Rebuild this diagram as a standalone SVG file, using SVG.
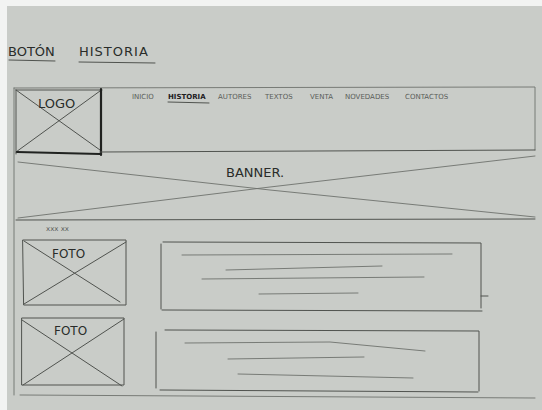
<svg xmlns="http://www.w3.org/2000/svg" width="542" height="410" viewBox="0 0 542 410">
<defs>
<style>
.ln{fill:none;stroke:#50534f;stroke-width:1;stroke-linecap:round}
.fn{fill:none;stroke:#6e726d;stroke-width:0.9;stroke-linecap:round}
.dk{fill:none;stroke:#202220;stroke-width:2.2;stroke-linecap:round}
.tx{font-family:"DejaVu Sans","Liberation Sans",sans-serif;fill:#2a2c2a}
.nv{font-family:"DejaVu Sans","Liberation Sans",sans-serif;fill:#5a5d59;font-size:7px}
</style>
</defs>
<rect width="542" height="410" fill="#f2f3f2"/>
<rect x="7" y="6" width="535" height="404" fill="#c9ccc8"/>
<g id="title">
<text class="tx" x="8" y="56" font-size="13">BOTÓN</text>
<text class="tx" x="79" y="56" font-size="13" letter-spacing="1">HISTORIA</text>
<path class="ln" d="M9 60 L55 61 M79 62 L155 63"/>
</g>
<g id="header">
<path class="fn" d="M14 88 L535 87 L535 150 M14 88 L14 395"/>
</g>
<g id="logo">
<path class="ln" d="M16 90 L102 90 M16 90 L16 154 M16 90 L100 150 M16 152 L100 91"/>
<path class="dk" d="M101 89 L101 155 M17 152 L100 154"/>
<text class="tx" x="38" y="108" font-size="13">LOGO</text>
</g>
<g id="nav">
<text class="nv" x="132" y="99">INICIO</text>
<text class="nv" x="168" y="99" style="font-weight:bold;fill:#1e201e">HISTORIA</text>
<path class="ln" d="M168 102 L209 103"/>
<text class="nv" x="218" y="99">AUTORES</text>
<text class="nv" x="265" y="99">TEXTOS</text>
<text class="nv" x="310" y="99">VENTA</text>
<text class="nv" x="345" y="99">NOVEDADES</text>
<text class="nv" x="405" y="99">CONTACTOS</text>
</g>
<g id="banner">
<path class="ln" d="M100 152 L535 150 M16 220 L535 219"/>
<path class="fn" d="M18 162 L270 190 L535 217 M18 218 L270 187 L535 156"/>
<text class="tx" x="226" y="177" font-size="13">BANNER.</text>
</g>
<g id="subtitle">
<text class="nv" x="46" y="231">xxx xx</text>
</g>
<g id="foto1">
<path class="ln" d="M23 240 L126 240 L126 305 L24 305 Z M24 241 L120 302 M24 304 L126 242"/>
<text class="tx" x="52" y="258" font-size="12">FOTO</text>
</g>
<g id="text1">
<path class="ln" d="M163 242 L481 243 L481 308 M161 244 L161 309 M162 310 L482 311 M481 296 L488 296"/>
<path class="fn" d="M182 255 L452 254 M226 270 L382 266 M202 279 L424 277 M259 294 L358 293"/>
</g>
<g id="foto2">
<path class="ln" d="M22 318 L124 318 L124 385 L22 385 Z M22 320 L122 386 M23 385 L124 319"/>
<text class="tx" x="54" y="335" font-size="12">FOTO</text>
</g>
<g id="text2">
<path class="ln" d="M165 330 L479 331 L479 391 M156 332 L156 388 M160 390 L478 392"/>
<path class="fn" d="M185 343 L330 342 L425 351 M228 359 L364 357 M238 374 L413 378"/>
<path class="fn" d="M20 395 L535 398"/>
</g>
</svg>
